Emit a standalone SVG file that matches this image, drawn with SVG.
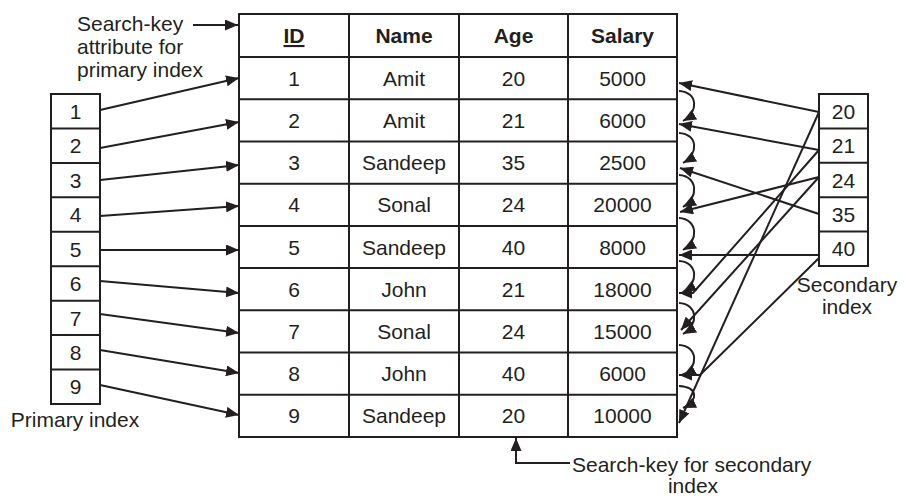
<svg xmlns="http://www.w3.org/2000/svg" width="904" height="497" viewBox="0 0 904 497">
<defs>
<marker id="ah" viewBox="0 0 13 11" refX="13" refY="5.5" markerWidth="13" markerHeight="11" markerUnits="userSpaceOnUse" orient="auto">
<path d="M0,0 L13,5.5 L0,11 z" fill="#231f20"/>
</marker>
<style>
text{font-family:"Liberation Sans",Arial,sans-serif;font-size:21px;fill:#231f20}
.c{text-anchor:middle}
.h{font-weight:bold}
.box{fill:#fff;stroke:#231f20;stroke-width:2}
.ln{stroke:#231f20;stroke-width:2;fill:none}
.ar{stroke:#231f20;stroke-width:2;fill:none;marker-end:url(#ah)}
</style>
</defs>
<rect width="904" height="497" fill="#fff"/>

<g id="table">
<rect class="box" x="239" y="14" width="438" height="423"/>
<path class="ln" d="M349,14V437M459,14V437M568,14V437M239,57H677M239,99.2H677M239,141.4H677M239,183.7H677M239,225.9H677M239,268.1H677M239,310.3H677M239,352.6H677M239,394.8H677"/>
<text class="c h" x="294" y="43" text-decoration="underline">ID</text>
<text class="c h" x="404" y="43">Name</text>
<text class="c h" x="513.5" y="43">Age</text>
<text class="c h" x="622.5" y="43">Salary</text>
<g>
<text class="c" x="294" y="85.6">1</text><text class="c" x="404" y="85.6">Amit</text><text class="c" x="513.5" y="85.6">20</text><text class="c" x="622.5" y="85.6">5000</text>
<text class="c" x="294" y="127.8">2</text><text class="c" x="404" y="127.8">Amit</text><text class="c" x="513.5" y="127.8">21</text><text class="c" x="622.5" y="127.8">6000</text>
<text class="c" x="294" y="170.1">3</text><text class="c" x="404" y="170.1">Sandeep</text><text class="c" x="513.5" y="170.1">35</text><text class="c" x="622.5" y="170.1">2500</text>
<text class="c" x="294" y="212.3">4</text><text class="c" x="404" y="212.3">Sonal</text><text class="c" x="513.5" y="212.3">24</text><text class="c" x="622.5" y="212.3">20000</text>
<text class="c" x="294" y="254.5">5</text><text class="c" x="404" y="254.5">Sandeep</text><text class="c" x="513.5" y="254.5">40</text><text class="c" x="622.5" y="254.5">8000</text>
<text class="c" x="294" y="296.7">6</text><text class="c" x="404" y="296.7">John</text><text class="c" x="513.5" y="296.7">21</text><text class="c" x="622.5" y="296.7">18000</text>
<text class="c" x="294" y="338.9">7</text><text class="c" x="404" y="338.9">Sonal</text><text class="c" x="513.5" y="338.9">24</text><text class="c" x="622.5" y="338.9">15000</text>
<text class="c" x="294" y="381.2">8</text><text class="c" x="404" y="381.2">John</text><text class="c" x="513.5" y="381.2">40</text><text class="c" x="622.5" y="381.2">6000</text>
<text class="c" x="294" y="423.4">9</text><text class="c" x="404" y="423.4">Sandeep</text><text class="c" x="513.5" y="423.4">20</text><text class="c" x="622.5" y="423.4">10000</text>
</g>
</g>

<g id="primary-index">
<rect class="box" x="51" y="94" width="49" height="310"/>
<path class="ln" d="M51,128.4H100M51,162.9H100M51,197.3H100M51,231.8H100M51,266.2H100M51,300.7H100M51,335.1H100M51,369.6H100"/>
<text class="c" x="75.5" y="118.8">1</text>
<text class="c" x="75.5" y="153.2">2</text>
<text class="c" x="75.5" y="187.7">3</text>
<text class="c" x="75.5" y="222.1">4</text>
<text class="c" x="75.5" y="256.6">5</text>
<text class="c" x="75.5" y="291">6</text>
<text class="c" x="75.5" y="325.5">7</text>
<text class="c" x="75.5" y="359.9">8</text>
<text class="c" x="75.5" y="394.4">9</text>
<text class="c" x="75" y="427">Primary index</text>
</g>

<g id="secondary-index">
<rect class="box" x="819" y="94" width="49" height="172"/>
<path class="ln" d="M819,128.4H868M819,162.8H868M819,197.2H868M819,231.6H868"/>
<text class="c" x="843.5" y="118.8">20</text>
<text class="c" x="843.5" y="153.2">21</text>
<text class="c" x="843.5" y="187.6">24</text>
<text class="c" x="843.5" y="222">35</text>
<text class="c" x="843.5" y="256.4">40</text>
<text class="c" x="847" y="292">Secondary</text>
<text class="c" x="847" y="314">index</text>
</g>

<g id="label-primary-key">
<text x="77" y="31">Search-key</text>
<text x="77" y="54">attribute for</text>
<text x="77" y="77">primary index</text>
</g>

<g id="label-secondary-key">
<text x="572" y="472">Search-key for secondary</text>
<text class="c" x="693" y="493">index</text>
</g>

<g id="connectors">
<path class="ar" d="M193,25H238"/>
<path class="ar" d="M570,463H516V438"/>
<path class="ar" d="M100,110L239,78"/>
<path class="ar" d="M100,148L239,122"/>
<path class="ar" d="M100,180L239,165"/>
<path class="ar" d="M100,216L239,206"/>
<path class="ar" d="M100,250L239,250"/>
<path class="ar" d="M100,281L239,293"/>
<path class="ar" d="M100,314L239,333"/>
<path class="ar" d="M100,350L239,373"/>
<path class="ar" d="M100,385L239,415"/>
<path class="ar" d="M679,91C698,92 699,112 683,121"/>
<path class="ar" d="M679,133C698,134 699,154 683,163"/>
<path class="ar" d="M679,175C698,176 699,198 683,207"/>
<path class="ar" d="M679,218C698,219 699,241 683,250"/>
<path class="ar" d="M679,261C698,262 699,283 683,292"/>
<path class="ar" d="M679,303C698,304 699,325 683,334"/>
<path class="ar" d="M679,345C698,346 699,367 683,376"/>
<path class="ar" d="M679,386C698,387 699,401 683,408"/>
<path class="ar" d="M819,112L679,83"/>
<path class="ar" d="M819,112L679,423"/>
<path class="ar" d="M819,150L679,124"/>
<path class="ar" d="M819,150L693,293H679"/>
<path class="ar" d="M819,214L680,168"/>
<path class="ar" d="M819,177L680,212"/>
<path class="ar" d="M819,177L681,330"/>
<path class="ar" d="M819,255H679"/>
<path class="ar" d="M819,258L700,375H679"/>
</g>
</svg>
